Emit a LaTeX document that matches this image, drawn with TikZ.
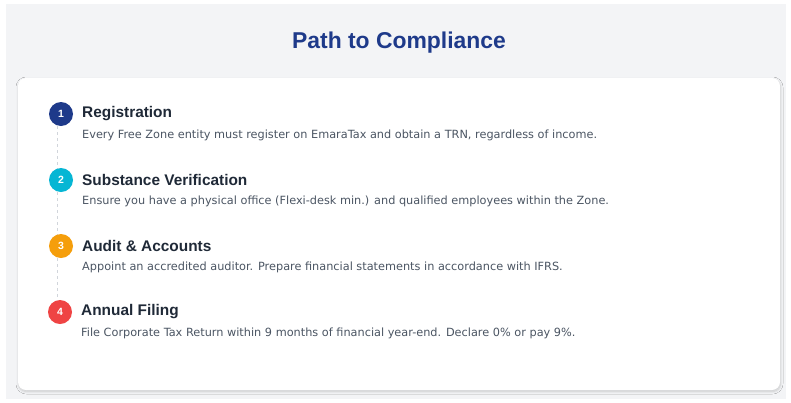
\documentclass[tikz,border=0pt]{standalone}
\usepackage{fontspec}
\setmainfont{Liberation Sans}
\newfontfamily\descfont{DejaVu Sans}
\usetikzlibrary{shadows.blur}
\definecolor{bgc}{HTML}{F3F4F6}
\definecolor{titlec}{HTML}{1E3A8A}
\definecolor{headc}{HTML}{1F2937}
\definecolor{descc}{HTML}{4B5563}
\definecolor{linec}{HTML}{D1D5DB}
\definecolor{c1}{HTML}{1E3A8A}
\definecolor{c2}{HTML}{06B6D4}
\definecolor{c3}{HTML}{F59E0B}
\definecolor{c4}{HTML}{EF4444}
\tikzset{
  badge/.style={circle, fill=#1, minimum size=24pt, inner sep=0pt, text=white, font=\fontsize{10.5}{12}\selectfont\bfseries},
  head/.style={anchor=west, inner sep=0pt, text=headc, font=\fontsize{15.4}{18}\selectfont\bfseries},
  desc/.style={anchor=west, inner sep=0pt, text=descc, font=\descfont\fontsize{11.3}{13}\selectfont},
  conn/.style={draw=linec, dashed, line width=0.8pt}
}
\begin{document}
\begin{tikzpicture}[x=1pt,y=-1pt]
\fill[white] (0,0) rectangle (791,402);
\useasboundingbox (0,0) rectangle (791,402);
\fill[bgc] (6,4) rectangle (786,399);
\node[text=titlec, font=\fontsize{22.9}{27}\selectfont\bfseries] (title) at (399,43) {Path to Compliance};
\path[fill=white, rounded corners=8pt, blur shadow={shadow blur steps=8, shadow blur radius=2.5pt, shadow xshift=0.5pt, shadow yshift=-1.5pt, shadow opacity=18}] (18,78) rectangle (780,390);
\coordinate (l1) at (57,126);
\coordinate (l4) at (57,300);
\draw[conn] (l1) -- (l4);
\node[badge=c1] (b1) at (61,114) {1};
\node[badge=c2] (b2) at (61,180) {2};
\node[badge=c3] (b3) at (61,246) {3};
\node[badge=c4] (b4) at (60,312) {4};
\node[head] (h1) at (82,114) {Registration};
\node[desc] (d1) at (82,135) {Every Free Zone entity must register on EmaraTax and obtain a TRN, regardless of income.};
\node[head] (h2) at (82,180) {Substance Verification};
\node[desc] (d2) at (82,201) {Ensure you have a physical office (Flexi-desk min.) and qualified employees within the Zone.};
\node[head] (h3) at (82,246) {Audit \& Accounts};
\node[desc] (d3) at (82,267) {Appoint an accredited auditor. Prepare financial statements in accordance with IFRS.};
\node[head] (h4) at (81,312) {Annual Filing};
\node[desc] (d4) at (81,333) {File Corporate Tax Return within 9 months of financial year-end. Declare 0\% or pay 9\%.};
\end{tikzpicture}
\end{document}
